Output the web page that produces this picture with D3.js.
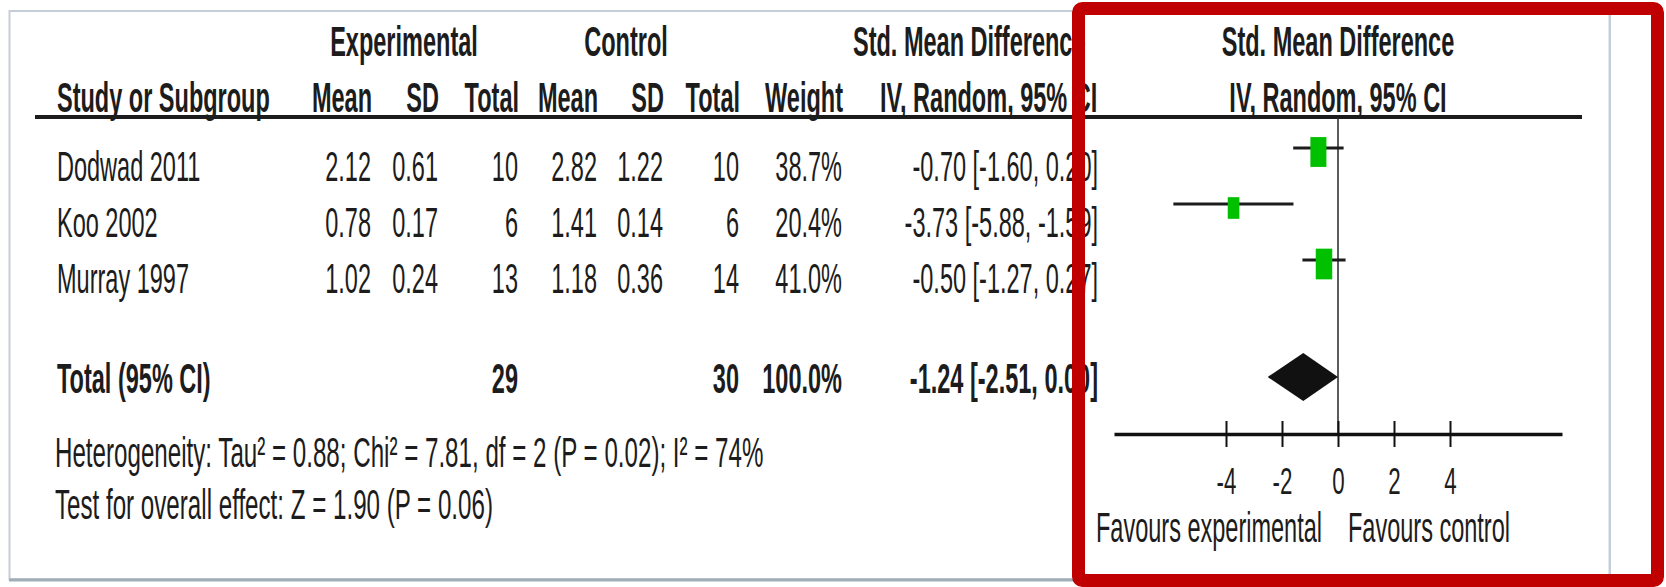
<!DOCTYPE html>
<html>
<head>
<meta charset="utf-8">
<script src="https://cdn.jsdelivr.net/npm/d3@7"></script>
<title>Forest plot</title>
<style>
  body { margin: 0; background: #fff; }
  svg text { font-family: "Liberation Sans", Arial, sans-serif; fill: #1c1c1c; }
</style>
</head>
<body>
<svg id="chart" width="1666" height="587"></svg>
<script>
// study data
var studies  = ["Dodwad 2011", "Koo 2002", "Murray 1997"];
var expMean  = [2.12, 0.78, 1.02];
var expSD    = [0.61, 0.17, 0.24];
var expN     = [10, 6, 13];
var ctrlMean = [2.82, 1.41, 1.18];
var ctrlSD   = [1.22, 0.14, 0.36];
var ctrlN    = [10, 6, 14];
var weight   = [38.7, 20.4, 41.0];
var smd      = [-0.70, -3.73, -0.50];
var smdLo    = [-1.60, -5.88, -1.27];
var smdHi    = [0.20, -1.59, 0.27];

// pooled
var totalExpN = 29, totalCtrlN = 30, totalWeight = 100.0;
var pooled = [-1.24, -2.51, 0.00];   // est, lo, hi

var xTicks = [-4, -2, 0, 2, 4];
var heteroText = "Heterogeneity: Tau\u00b2 = 0.88; Chi\u00b2 = 7.81, df = 2 (P = 0.02); I\u00b2 = 74%";
var effectText = "Test for overall effect: Z = 1.90 (P = 0.06)";

var svg = d3.select("#chart");
var SX = 0.56;   // condensed look of the original font

function label(x, y, s, anchor, bold, size, sx) {
  return svg.append("text")
    .attr("transform", "translate(" + x + "," + y + ") scale(" + (sx || SX) + ",1)")
    .attr("text-anchor", anchor || "start")
    .attr("font-size", size || 42)
    .attr("font-weight", bold ? "bold" : "normal")
    .text(s);
}

// plain hyphen for negatives, like the original
var loc = d3.formatLocale({decimal: ".", thousands: ",", grouping: [3], currency: ["", ""], minus: "-"});
var f2 = loc.format(".2f"), f1 = loc.format(".1f");
function ci(e, lo, hi) { return f2(e) + " [" + f2(lo) + ", " + f2(hi) + "]"; }

// outer frame of the screenshot
svg.append("rect").attr("x", 9.5).attr("y", 11).attr("width", 1600).attr("height", 568)
  .attr("fill", "none").attr("stroke", "#c5ced8").attr("stroke-width", 2);
svg.append("line").attr("x1", 9).attr("x2", 1610).attr("y1", 580).attr("y2", 580)
  .attr("stroke", "#a3adb7").attr("stroke-width", 3);

// column right edges
var colX = [371, 438, 518, 597, 663, 739, 842, 1098];
var rowY = d3.scaleLinear().domain([0, 1]).range([181, 237]);

// headers
label(404, 56, "Experimental", "middle", true);
label(626, 56, "Control", "middle", true);
label(853, 56, "Std. Mean Difference", "start", true);
label(57, 112, "Study or Subgroup", "start", true);
["Mean", "SD", "Total", "Mean", "SD", "Total", "Weight"].forEach(function(h, i) {
  label(colX[i] + 1, 112, h, "end", true);
});
label(880, 112, "IV, Random, 95% CI", "start", true);

svg.append("line").attr("x1", 35).attr("x2", 1582).attr("y1", 117).attr("y2", 117)
  .attr("stroke", "#1c1c1c").attr("stroke-width", 4);

// study rows
studies.forEach(function(s, i) {
  var y = rowY(i);
  label(57, y, s);
  var cells = [f2(expMean[i]), f2(expSD[i]), expN[i], f2(ctrlMean[i]), f2(ctrlSD[i]), ctrlN[i],
               f1(weight[i]) + "%", ci(smd[i], smdLo[i], smdHi[i])];
  cells.forEach(function(c, j) { label(colX[j], y, c, "end"); });
});

// total row
var totY = 393;
label(57, totY, "Total (95% CI)", "start", true);
label(colX[2], totY, totalExpN, "end", true);
label(colX[5], totY, totalCtrlN, "end", true);
label(colX[6], totY, f1(totalWeight) + "%", "end", true);
label(colX[7], totY, ci(pooled[0], pooled[1], pooled[2]), "end", true);
label(55, 467, heteroText, "start", false, 42, 0.575);
label(55, 519, effectText, "start", false, 42, 0.575);

// forest plot
var x = d3.scaleLinear().domain([-8, 8]).range([1114, 1562]);
var axisY = 434;

label(x(0), 56, "Std. Mean Difference", "middle", true);
label(x(0), 112, "IV, Random, 95% CI", "middle", true);

svg.append("line").attr("x1", x(0)).attr("x2", x(0)).attr("y1", 118).attr("y2", axisY)
  .attr("stroke", "#333").attr("stroke-width", 1.6);

var boxW = d3.scaleSqrt().domain([0, 41]).range([0, 16.5]);
var plotRow = studies.map(function(s, i) { return rowY(i) - 33; });

svg.append("g").selectAll("line").data(studies).join("line")
  .attr("x1", function(d, i) { return x(smdLo[i]); })
  .attr("x2", function(d, i) { return x(smdHi[i]); })
  .attr("y1", function(d, i) { return plotRow[i]; })
  .attr("y2", function(d, i) { return plotRow[i]; })
  .attr("stroke", "#1c1c1c").attr("stroke-width", 3);

svg.append("g").selectAll("rect").data(studies).join("rect")
  .attr("x", function(d, i) { return x(smd[i]) - boxW(weight[i]) / 2; })
  .attr("y", function(d, i) { return plotRow[i] + 4 - boxW(weight[i]) * 0.93; })
  .attr("width", function(d, i) { return boxW(weight[i]); })
  .attr("height", function(d, i) { return boxW(weight[i]) * 1.86; })
  .attr("fill", "#00c000");

var dY = 377, dH = 24;
svg.append("path")
  .attr("d", "M" + x(pooled[1]) + "," + dY + "L" + x(pooled[0]) + "," + (dY - dH) +
             "L" + x(pooled[2]) + "," + dY + "L" + x(pooled[0]) + "," + (dY + dH) + "Z")
  .attr("fill", "#111");

var ax = svg.append("g").attr("transform", "translate(0," + axisY + ")")
  .call(d3.axisBottom(x).tickValues(xTicks).tickSize(13).tickSizeOuter(0)
    .tickFormat(function(d) { return String(d); }));
ax.attr("font-size", null).attr("font-family", null);
ax.select(".domain").attr("stroke", "#111").attr("stroke-width", 3.5);
ax.selectAll(".tick line").attr("y1", -13).attr("y2", 13).attr("stroke", "#111").attr("stroke-width", 2);
ax.selectAll(".tick text").attr("y", 60).attr("dy", null)
  .attr("font-size", 36).attr("transform", "scale(0.62,1)");

label(x(0) - 16, 542, "Favours experimental", "end");
label(x(0) + 10, 542, "Favours control", "start");

// red highlight frame
svg.append("rect").attr("x", 1078.5).attr("y", 8.5).attr("width", 579).attr("height", 572)
  .attr("rx", 4).attr("fill", "none").attr("stroke", "#c00000").attr("stroke-width", 13);
// right edge of the screenshot frame inside the red box
svg.append("line").attr("x1", 1610).attr("x2", 1610).attr("y1", 15).attr("y2", 574)
  .attr("stroke", "#c5ced8").attr("stroke-width", 2);
</script>
</body>
</html>
